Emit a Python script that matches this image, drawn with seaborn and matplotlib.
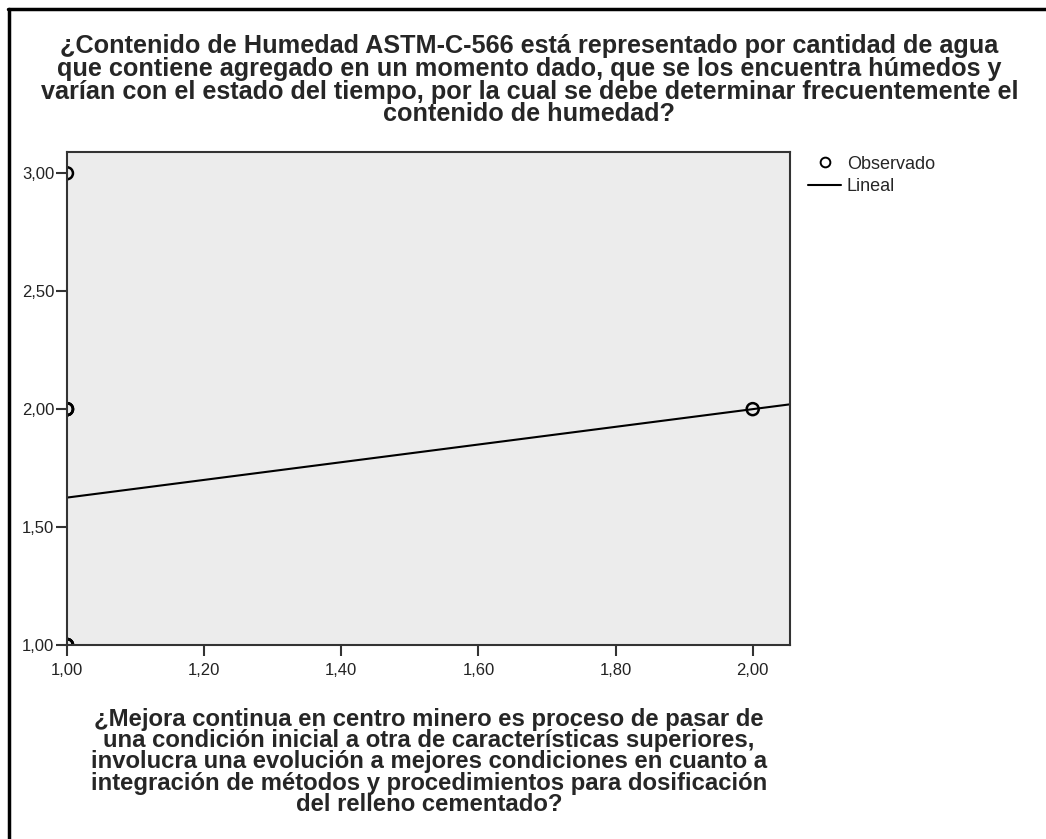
import matplotlib
matplotlib.use("Agg")
import matplotlib.pyplot as plt
from matplotlib.lines import Line2D
import seaborn as sns
import pandas as pd

# Survey responses (coded 1-3), repeated rows share the same position
mejora_continua = [1, 1, 1, 1, 1, 1, 1, 1, 2]
contenido_humedad = [1, 1, 1, 1, 2, 2, 2, 3, 2]

x_ticks = [1.00, 1.20, 1.40, 1.60, 1.80, 2.00]
y_ticks = [1.00, 1.50, 2.00, 2.50, 3.00]

title_text = ("¿Contenido de Humedad ASTM-C-566 está representado por cantidad de agua\n"
              "que contiene agregado en un momento dado, que se los encuentra húmedos y\n"
              "varían con el estado del tiempo, por la cual se debe determinar frecuentemente el\n"
              "contenido de humedad?")
xlabel_text = ("¿Mejora continua en centro minero es proceso de pasar de\n"
               "una condición inicial a otra de características superiores,\n"
               "involucra una evolución a mejores condiciones en cuanto a\n"
               "integración de métodos y procedimientos para dosificación\n"
               "del relleno cementado?")

df = pd.DataFrame({"x": mejora_continua, "y": contenido_humedad})

sns.set_style("white")
plt.rcParams["font.family"] = ["Liberation Sans", "DejaVu Sans"]

fig = plt.figure(figsize=(10.46, 8.39), dpi=100)
ax = fig.add_axes([0.064, 0.2312, 0.691, 0.5876])
ax.set_facecolor("#ececec")

ax.set_xlim(1.0, 2.054)
ax.set_ylim(1.0, 3.09)

sns.regplot(data=df, x="x", y="y", ax=ax, ci=None, scatter=False, truncate=False,
            line_kws={"color": "black", "linewidth": 1.5})
sns.scatterplot(data=df, x="x", y="y", ax=ax, marker="o", s=75,
                facecolor="none", edgecolor="black", linewidth=1.8, legend=False)

ax.set_xlim(1.0, 2.054)
ax.set_ylim(1.0, 3.09)
ax.set_xticks(x_ticks)
ax.set_yticks(y_ticks)
ax.set_xticklabels([f"{v:.2f}".replace(".", ",") for v in x_ticks], fontsize=12, color="#222222")
ax.set_yticklabels([f"{v:.2f}".replace(".", ",") for v in y_ticks], fontsize=12, color="#222222")
ax.tick_params(axis="both", direction="out", length=8, width=1.5, color="#333333",
               bottom=True, left=True)
ax.tick_params(axis="x", pad=5)
ax.tick_params(axis="y", pad=1)
ax.set_xlabel("")
ax.set_ylabel("")
for side in ax.spines.values():
    side.set_visible(True)
    side.set_color("#333333")
    side.set_linewidth(1.5)

fig.text(0.506, 0.9045, title_text, ha="center", va="center", fontsize=18.2,
         fontweight="bold", linespacing=0.94)
fig.text(0.410, 0.0918, xlabel_text, ha="center", va="center", fontsize=17.2,
         fontweight="bold", linespacing=0.91)

handles = [
    Line2D([], [], marker="o", linestyle="none", markerfacecolor="none",
           markeredgecolor="black", markersize=7, markeredgewidth=1.4, label="Observado"),
    Line2D([], [], color="black", linewidth=1.5, label="Lineal"),
]
fig.legend(handles=handles, loc="upper left", bbox_to_anchor=(0.7725, 0.8145),
           frameon=False, fontsize=13, handlelength=1.85, handletextpad=0.3,
           labelspacing=0.3, borderaxespad=0, borderpad=0)

# Frame lines along the top and left of the figure
fig.add_artist(Line2D([0.008, 1.0], [0.9898, 0.9898], transform=fig.transFigure,
                      color="black", linewidth=2.5))
fig.add_artist(Line2D([0.0083, 0.0083], [0.0, 0.9898], transform=fig.transFigure,
                      color="black", linewidth=2.5))

fig.savefig("out.png", dpi=100, facecolor="white")
